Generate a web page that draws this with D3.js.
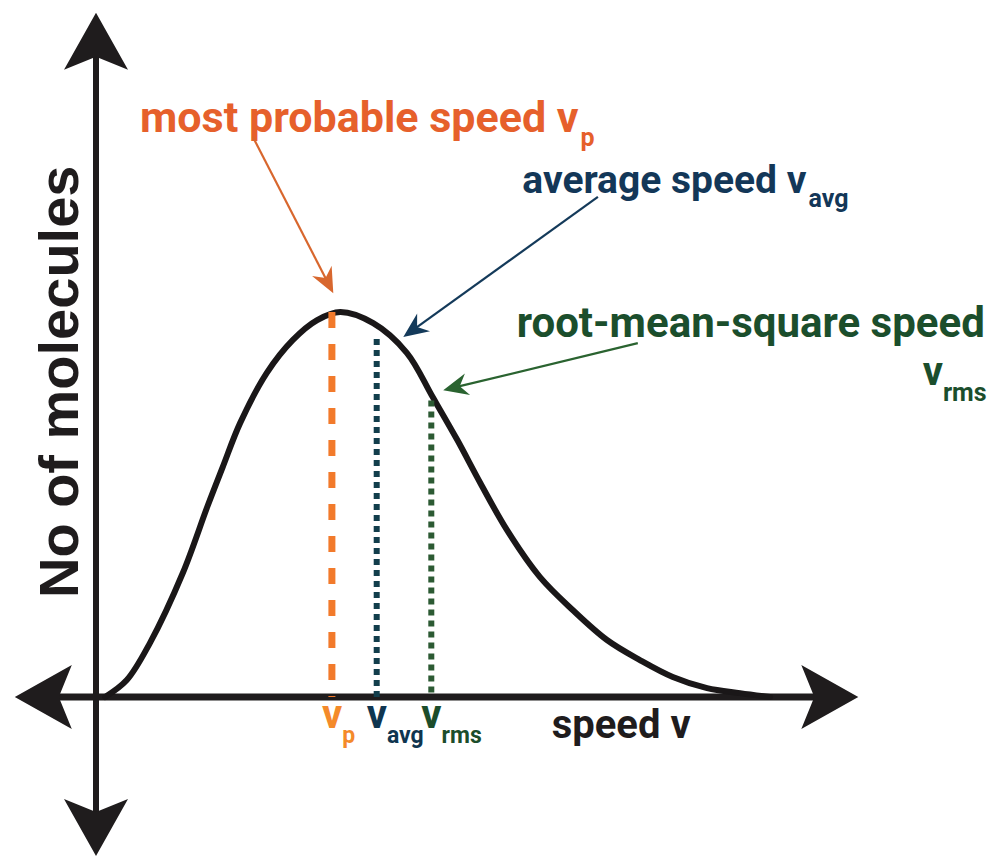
<!DOCTYPE html>
<html>
<head>
<meta charset="utf-8">
<script src="https://cdn.jsdelivr.net/npm/d3@7"></script>
<style>
  html, body { margin: 0; padding: 0; background: #fff; }
  svg { display: block; }
</style>
</head>
<body>
<div id="chart"></div>
<script>
// curve (speed, relative number of molecules)
var speed     = [1.3, 4.4, 7.7, 12.4, 15.9, 18.1, 20.6, 24.4, 28.1, 31.6, 34.9, 39.6, 44.4, 48.1, 51.6, 54.9, 58.7, 63.4, 68.1, 73.0, 77.7, 82.4, 87.3, 92.0, 96.3];
var molecules = [0, 4.4, 14.0, 32.2, 49.4, 59.7, 71.2, 84.2, 92.7, 97.9, 100, 97.1, 89.4, 77.9, 66.8, 55.6, 43.4, 31.2, 22.6, 14.8, 9.6, 5.2, 2.3, 1.0, 0];

// characteristic speeds
var markerSub   = ["p", "avg", "rms"];
var markerSpeed = [33.7, 40.1, 47.9];
var markerTop   = [100, 93, 77];

var width = 992, height = 858;

var x = d3.scaleLinear().domain([0, 100]).range([96, 796]);
var y = d3.scaleLinear().domain([0, 100]).range([697, 312]);

var svg = d3.select("#chart")
  .append("svg")
    .attr("width", width)
    .attr("height", height);

var ink = "#1f1c1d";
var font = "Roboto, 'Noto Sans', sans-serif";

// notched arrow head, tip at (tx,ty) pointing along angle a
function head(tx, ty, a, len, half, notch) {
  var c = Math.cos(a), s = Math.sin(a);
  function p(back, side) {
    return [tx - c * back - s * side, ty - s * back + c * side];
  }
  var pts = [[tx, ty], p(len, half), p(notch, 0), p(len, -half)];
  return "M" + pts.map(function(d) { return d.join(","); }).join("L") + "Z";
}

// axes through the origin, arrows on both ends
var x0 = x(0), y0 = y(0);
var xl = x(-11.6), xr = x(108.9);
var yt = y(177.7), yb = y(-41.3);

svg.append("line")
  .attr("x1", x0).attr("x2", x0)
  .attr("y1", yt + 40).attr("y2", yb - 40)
  .attr("stroke", ink).attr("stroke-width", 6);
svg.append("line")
  .attr("x1", xl + 40).attr("x2", xr - 40)
  .attr("y1", y0).attr("y2", y0)
  .attr("stroke", ink).attr("stroke-width", 7);

[[x0, yt, -Math.PI / 2], [x0, yb, Math.PI / 2], [xl, y0, Math.PI], [xr, y0, 0]].forEach(function(d) {
  svg.append("path")
    .attr("d", head(d[0], d[1], d[2], 57, 32, 44))
    .attr("fill", ink);
});

// distribution curve
var line = d3.line()
  .x(function(d) { return x(d[0]); })
  .y(function(d) { return y(d[1]); })
  .curve(d3.curveCatmullRom.alpha(0.5));

svg.append("path")
  .datum(d3.zip(speed, molecules))
  .attr("d", line)
  .attr("fill", "none")
  .attr("stroke", "#1a1718")
  .attr("stroke-width", 6)
  .attr("stroke-linecap", "round");

// vertical marker lines
var lineColor  = ["#f27a2b", "#123e4c", "#2c5a33"];
var labelColor = ["#f48a2a", "#0f3550", "#1c4d2b"];
var dashes     = ["16,16", "6,5", "6,5"];

svg.selectAll(".marker")
  .data(markerSpeed)
  .enter()
  .append("line")
    .attr("class", "marker")
    .attr("x1", function(d) { return x(d); })
    .attr("x2", function(d) { return x(d); })
    .attr("y1", function(d, i) { return y(markerTop[i]); })
    .attr("y2", y0)
    .attr("stroke", function(d, i) { return lineColor[i]; })
    .attr("stroke-width", function(d, i) { return i == 0 ? 7 : 6; })
    .attr("stroke-dasharray", function(d, i) { return dashes[i]; });

// labels under the x axis
var tick = svg.selectAll(".tick")
  .data(markerSpeed)
  .enter()
  .append("text")
    .attr("class", "tick")
    .attr("x", function(d) { return x(d) - 10; })
    .attr("y", y(-8.1))
    .attr("fill", function(d, i) { return labelColor[i]; })
    .style("font-family", font)
    .style("font-weight", 700)
    .style("font-size", "40px");
tick.append("tspan").text("v");
tick.append("tspan")
  .attr("dy", 15)
  .style("font-size", "23px")
  .text(function(d, i) { return markerSub[i]; });

svg.append("text")
  .attr("x", x(65.1)).attr("y", y(-10.6))
  .attr("fill", ink)
  .style("font-family", font)
  .style("font-weight", 700)
  .style("font-size", "40px")
  .text("speed v");

svg.append("text")
  .attr("transform", "translate(" + x(-2.6) + "," + y(25.7) + ") rotate(-90)")
  .attr("fill", ink)
  .style("font-family", "'Liberation Sans', Arial, sans-serif")
  .style("font-weight", 700)
  .style("font-size", "56px")
  .text("No of molecules");

// annotations
var notes = [
  {text: "most probable speed v", sub: "p", size: 43, at: [6.3, 146.8], color: "#e6602b", arrow: "#d8672e",
   from: [22.4, 145.5], to: [33.9, 104.9]},
  {text: "average speed v", sub: "avg", size: 39, at: [60.9, 130.9], color: "#133758", arrow: "#143a5a",
   from: [71.7, 129.9], to: [43.9, 93.5]},
  {text: "root-mean-square speed", sub: null, size: 42, at: [60.1, 93.5], color: "#1b4e2c", arrow: "#2a6330",
   from: [77.4, 91.9], to: [49.6, 79.7]}
];

notes.forEach(function(n) {
  var t = svg.append("text")
    .attr("x", x(n.at[0])).attr("y", y(n.at[1]))
    .attr("fill", n.color)
    .style("font-family", font)
    .style("font-weight", 700)
    .style("font-size", n.size + "px");
  t.append("tspan").text(n.text);
  if (n.sub) {
    t.append("tspan").attr("dx", 2).attr("dy", 14).style("font-size", "25px").text(n.sub);
  }

  var x1 = x(n.from[0]), y1 = y(n.from[1]), x2 = x(n.to[0]), y2 = y(n.to[1]);
  var a = Math.atan2(y2 - y1, x2 - x1);
  svg.append("line")
    .attr("x1", x1).attr("y1", y1)
    .attr("x2", x2 - Math.cos(a) * 16).attr("y2", y2 - Math.sin(a) * 16)
    .attr("stroke", n.arrow).attr("stroke-width", 2.2);
  svg.append("path")
    .attr("d", head(x2, y2, a, 25, 11, 17))
    .attr("fill", n.arrow);
});

// second line of the rms label
var rms = svg.append("text")
  .attr("x", x(118.1)).attr("y", y(81.0))
  .attr("fill", "#1b4e2c")
  .style("font-family", font)
  .style("font-weight", 700)
  .style("font-size", "40px");
rms.append("tspan").text("v");
rms.append("tspan").attr("dy", 16).style("font-size", "25px").text("rms");
</script>
</body>
</html>
